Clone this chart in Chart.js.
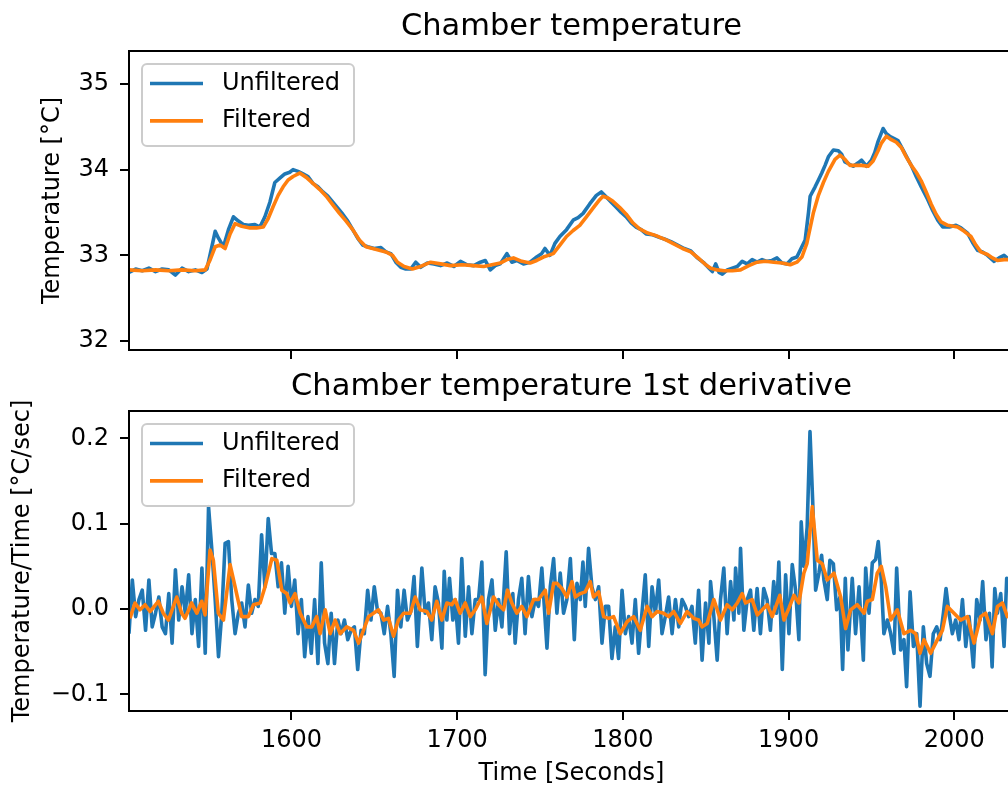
<!DOCTYPE html>
<html>
<head>
<meta charset="utf-8">
<script src="https://cdn.jsdelivr.net/npm/chart.js@4.4.1/dist/chart.umd.min.js"></script>
<style>
  html, body { margin: 0; padding: 0; background: #fff; overflow: hidden; }
  #wrap { position: relative; width: 1008px; height: 788px; overflow: hidden; }
  canvas { position: absolute; left: 0; }
  #tempCanvas { top: 0; }
  #derivCanvas { top: 360px; }
</style>
</head>
<body>
<div id="wrap">
  <canvas id="tempCanvas" width="1030" height="360"></canvas>
  <canvas id="derivCanvas" width="1030" height="428"></canvas>
</div>
<script>
// ---- data ----
const seriesNames = ['Unfiltered', 'Filtered']
const seriesColors = ['#1f77b4', '#ff7f0e']

const timeRange = [1502, 2036]
const timeTicks = [1600, 1700, 1800, 1900, 2000]
const tempRange = [31.895, 35.385]
const tempTicks = [32, 33, 34, 35]
const derivRange = [-0.1196, 0.232]
const derivTicks = [-0.1, 0.0, 0.1, 0.2]

// chamber temperature, unfiltered
const tempRawTime = [
  1502,1506,1510,1514,1518,1522,1526,1530,1534,1538,
  1542,1546,1549,1552,1554,1556,1559,1562,1565,1568,
  1571,1574,1578,1581,1584,1587,1590,1593,1596,1599,
  1601,1604,1607,1610,1613,1616,1619,1622,1625,1628,
  1631,1634,1637,1640,1643,1646,1650,1654,1657,1660,
  1663,1666,1669,1672,1675,1678,1682,1686,1690,1694,
  1698,1702,1706,1710,1714,1717,1720,1723,1726,1730,
  1733,1736,1740,1744,1748,1751,1753,1756,1759,1762,
  1766,1770,1773,1776,1780,1784,1787,1790,1793,1796,
  1799,1802,1805,1808,1811,1814,1818,1822,1825,1829,
  1833,1837,1841,1845,1849,1852,1854,1856,1858,1860,
  1863,1866,1869,1872,1875,1878,1881,1884,1887,1890,
  1893,1896,1899,1902,1905,1908,1910,1912,1913,1916,
  1918,1920,1922,1924,1927,1930,1932,1934,1937,1939,
  1942,1944,1947,1950,1952,1954,1957,1959,1961,1964,
  1966,1969,1972,1974,1977,1980,1984,1987,1990,1993,
  1997,2001,2004,2008,2011,2014,2017,2020,2024,2027,
  2030,2033,2036
]
const tempRaw = [
  32.80,32.84,32.82,32.85,32.81,32.84,32.83,32.77,32.85,32.81,
  32.83,32.80,32.84,33.10,33.28,33.20,33.10,33.30,33.45,33.40,
  33.36,33.35,33.36,33.33,33.45,33.62,33.85,33.90,33.95,33.97,
  34.00,33.98,33.95,33.92,33.84,33.80,33.74,33.69,33.62,33.55,
  33.48,33.40,33.30,33.20,33.12,33.10,33.08,33.09,33.04,33.02,
  32.92,32.86,32.84,32.84,32.92,32.86,32.91,32.90,32.88,32.91,
  32.87,32.93,32.89,32.88,32.92,32.94,32.83,32.88,32.90,33.02,
  32.92,32.94,32.90,32.92,32.98,33.02,33.08,33.00,33.14,33.22,
  33.30,33.41,33.44,33.49,33.60,33.70,33.74,33.68,33.62,33.56,
  33.50,33.45,33.38,33.33,33.30,33.25,33.24,33.21,33.19,33.16,
  33.12,33.08,33.05,32.97,32.91,32.85,32.81,32.90,32.80,32.78,
  32.83,32.85,32.87,32.93,32.90,32.95,32.92,32.95,32.93,32.94,
  32.97,32.91,32.90,32.96,32.98,33.10,33.18,33.50,33.69,33.80,
  33.88,33.96,34.05,34.15,34.23,34.22,34.18,34.09,34.06,34.04,
  34.08,34.11,34.04,34.11,34.20,34.33,34.48,34.42,34.39,34.36,
  34.34,34.23,34.12,34.05,33.92,33.80,33.65,33.52,33.41,33.33,
  33.33,33.35,33.32,33.26,33.15,33.06,33.04,33.00,32.93,32.97,
  33.00,32.95,32.96
]

// chamber temperature, filtered
const tempFiltTime = [
  1502,1510,1518,1526,1534,1542,1548,1551,1554,1557,
  1560,1563,1566,1570,1575,1579,1583,1586,1589,1592,
  1595,1598,1601,1605,1609,1613,1617,1621,1625,1629,
  1633,1637,1641,1645,1649,1653,1657,1661,1664,1668,
  1673,1678,1684,1690,1696,1703,1710,1716,1721,1726,
  1730,1734,1739,1744,1748,1752,1755,1758,1762,1766,
  1770,1774,1778,1782,1786,1788,1791,1794,1798,1802,
  1806,1810,1815,1820,1826,1831,1836,1841,1846,1850,
  1853,1857,1861,1866,1871,1876,1881,1886,1891,1896,
  1901,1905,1908,1911,1913,1915,1918,1921,1924,1928,
  1931,1934,1937,1941,1944,1948,1951,1954,1956,1959,
  1962,1965,1968,1971,1974,1977,1980,1983,1986,1989,
  1992,1996,2002,2006,2010,2013,2016,2020,2023,2026,
  2030,2036
]
const tempFilt = [
  32.83,32.82,32.83,32.82,32.83,32.82,32.83,32.95,33.10,33.12,
  33.08,33.25,33.37,33.34,33.32,33.32,33.33,33.43,33.57,33.70,
  33.80,33.88,33.92,33.96,33.91,33.84,33.77,33.69,33.59,33.49,
  33.40,33.30,33.18,33.10,33.08,33.06,33.04,33.00,32.92,32.87,
  32.84,32.87,32.92,32.90,32.88,32.89,32.88,32.87,32.89,32.91,
  32.95,32.97,32.93,32.91,32.94,32.98,33.00,33.02,33.12,33.22,
  33.29,33.35,33.45,33.55,33.65,33.69,33.67,33.63,33.56,33.48,
  33.38,33.31,33.26,33.23,33.18,33.13,33.08,33.04,32.96,32.89,
  32.85,32.83,32.82,32.82,32.83,32.88,32.92,32.93,32.92,32.91,
  32.89,32.92,32.98,33.14,33.32,33.50,33.70,33.85,33.98,34.12,
  34.17,34.12,34.05,34.05,34.05,34.04,34.10,34.22,34.31,34.39,
  34.35,34.32,34.26,34.15,34.05,33.97,33.87,33.74,33.60,33.48,
  33.39,33.35,33.33,33.28,33.22,33.12,33.04,33.01,32.97,32.94,
  32.95,32.95
]

// 1st derivative, unfiltered
const derivRawTime = [
  1502,1504,1506,1508,1510,1512,1514,1516,1518,1520,
  1522,1524,1526,1528,1530,1532,1534,1536,1538,1540,
  1542,1544,1546,1548,1550,1552,1554,1556,1558,1560,
  1562,1564,1566,1568,1570,1572,1574,1576,1578,1580,
  1582,1584,1586,1588,1590,1592,1594,1596,1598,1600,
  1602,1604,1606,1608,1610,1612,1614,1616,1618,1620,
  1622,1624,1626,1628,1630,1632,1634,1636,1638,1640,
  1642,1644,1646,1648,1650,1652,1654,1656,1658,1660,
  1662,1664,1666,1668,1670,1672,1674,1676,1678.7,1680.7,
  1682.7,1684.7,1686.7,1688.7,1690.8,1692.2,1693.8,1695.4,1697.4,1698.8,
  1700.8,1702.8,1704.9,1706.9,1708.9,1710.9,1712.9,1714.9,1716.9,1718.9,
  1721.0,1723.0,1725.0,1727.0,1729.6,1731.6,1733.6,1735.0,1737.0,1739.0,
  1741.0,1743.0,1745.1,1747.1,1749.1,1751.1,1754.2,1756.2,1758.2,1760.2,
  1762.2,1764.2,1766.2,1768.3,1770.7,1772.3,1774.3,1775.9,1777.3,1779.3,
  1781.3,1783.4,1785.4,1787.4,1789.4,1791.4,1793.4,1795.4,1797.4,1799.5,
  1801.5,1803.5,1805.5,1807.5,1809.5,1811.5,1813.5,1815.6,1817.6,1819.6,
  1821.6,1823.6,1825.6,1827.6,1829.7,1831.7,1833.7,1835.7,1837.7,1839.7,
  1841.7,1843.7,1845.7,1847.8,1849.9,1851.9,1852.9,1854.9,1856.9,1858.9,
  1860.9,1862.9,1865.0,1867.0,1868.0,1870.0,1871.0,1873.0,1875.0,1877.0,
  1879.0,1881.0,1883.0,1885.0,1887.0,1889.0,1891.0,1892.7,1894.1,1896.2,
  1898.2,1900.2,1902.2,1904.2,1906.2,1907.6,1909.2,1911.2,1912.9,1914.5,
  1916.3,1918.3,1919.9,1921.3,1923.3,1924.9,1927.0,1929.0,1931.0,1932.6,
  1934.2,1935.8,1938.4,1940.4,1942.5,1945.1,1946.5,1948.5,1950.5,1952.5,
  1954.1,1955.9,1957.5,1959.6,1961.6,1963.6,1965.2,1967.6,1969.6,1971.2,
  1973.3,1975.3,1977.3,1979.3,1981.3,1983.3,1985.3,1987.3,1989.4,1991.4,
  1993.4,1995.0,1996.8,1998.8,2000.8,2002.8,2004.9,2006.9,2008.9,2011.5,
  2013.5,2015.5,2017.1,2019.1,2021.2,2022.8,2024.4,2026.0,2028.0,2030.0,
  2031.6,2033.6,2035.6,2037.0
]
const derivRaw = [
  -0.029,0.034,-0.009,0.011,0.022,-0.025,0.034,-0.021,-0.005,0.014,
  -0.021,-0.029,0.018,-0.040,0.046,-0.013,0.026,-0.005,0.040,-0.029,
  0.011,-0.044,0.048,-0.052,0.120,0.069,0.011,-0.056,-0.005,0.077,
  0.079,0.011,-0.029,-0.005,0.007,-0.021,0.028,-0.005,0.011,0.003,
  0.087,0.026,0.106,0.065,0.065,0.026,0.054,-0.005,0.050,0.003,
  0.034,-0.029,0.011,-0.056,-0.009,-0.052,0.011,-0.064,0.054,-0.040,
  -0.064,-0.005,-0.064,-0.013,-0.029,-0.013,-0.036,-0.025,-0.021,-0.071,
  -0.025,-0.029,0.022,-0.013,0.026,-0.003,-0.005,-0.029,0.003,-0.029,
  -0.079,0.022,-0.021,0.022,-0.013,-0.003,0.038,-0.044,0.048,-0.005,
  0.007,-0.036,0.026,0.007,-0.046,0.044,-0.013,0.036,-0.013,0.011,
  -0.040,0.059,-0.032,0.026,-0.029,0.011,0.011,0.055,-0.077,0.011,
  0.034,-0.025,0.011,-0.021,0.067,-0.029,0.018,-0.040,0.011,0.036,
  -0.029,0.038,-0.009,0.011,0.003,0.048,-0.046,0.026,0.059,-0.005,
  0.042,-0.005,0.011,0.059,-0.036,0.030,0.011,0.055,0.003,0.071,
  0.026,0.011,0.026,-0.040,0.003,0.003,-0.058,-0.021,-0.058,0.022,
  -0.029,-0.009,-0.040,0.011,-0.052,-0.005,0.040,-0.044,0.026,-0.005,
  0.034,-0.029,-0.009,0.014,-0.029,0.011,-0.021,0.011,0.003,-0.009,
  0.003,-0.040,0.022,-0.060,0.007,-0.040,0.032,-0.009,-0.060,0.011,
  0.048,-0.029,0.032,-0.013,0.048,-0.005,0.071,-0.025,0.011,0.022,
  -0.025,0.024,-0.029,0.024,0.011,-0.025,0.032,-0.005,0.055,-0.071,
  0.040,-0.029,0.052,0.022,-0.036,0.102,0.050,0.096,0.208,0.128,
  0.022,0.042,0.063,0.034,0.011,0.057,0.053,-0.001,0.014,-0.071,
  0.036,-0.048,0.036,-0.029,0.026,-0.060,0.048,-0.005,0.054,0.058,
  0.079,0.034,-0.029,-0.013,-0.029,-0.052,0.048,-0.048,-0.036,-0.091,
  0.020,-0.044,-0.029,-0.114,-0.021,-0.064,-0.079,-0.029,-0.021,-0.036,
  -0.005,0.024,-0.005,-0.029,-0.013,-0.036,0.011,-0.044,-0.009,-0.068,
  0.011,-0.013,0.032,-0.036,-0.005,-0.068,0.024,-0.005,0.018,-0.044,
  0.036,0.026,-0.010,0.008
]

// 1st derivative, filtered
const derivFiltTime = [
  1502.6,1505.6,1508.6,1511.7,1514.7,1519.7,1522.7,1525.8,1530.8,1533.8,
  1535.8,1539.8,1542.9,1545.9,1547.9,1550.9,1552.9,1555.9,1559.0,1563.0,
  1566.0,1570.0,1574.0,1577.1,1581.1,1584.1,1588.2,1591.2,1594.2,1597.2,
  1599.2,1602.2,1605.3,1609.3,1612.3,1615.3,1617.3,1620.4,1623.4,1626.4,
  1629.4,1633.4,1637.5,1640.5,1643.5,1646.5,1649.5,1652.6,1655.6,1658.6,
  1661.6,1664.6,1667.7,1671.7,1674.7,1677.7,1681.7,1684.7,1687.7,1690.8,
  1693.8,1696.8,1698.8,1701.8,1704.9,1707.9,1710.9,1714.9,1717.9,1722.0,
  1725.0,1728.0,1730.4,1733.0,1736.0,1739.0,1742.1,1746.1,1749.1,1753.2,
  1755.2,1758.2,1760.2,1763.2,1766.2,1769.3,1771.3,1774.3,1777.3,1780.3,
  1782.3,1785.4,1788.4,1791.4,1794.4,1798.4,1802.5,1806.5,1810.5,1814.6,
  1817.6,1820.6,1824.6,1827.6,1830.7,1834.7,1838.7,1842.7,1845.7,1847.8,
  1850.9,1854.9,1858.9,1862.9,1866.0,1869.0,1872.0,1874.0,1878.0,1881.1,
  1884.1,1887.1,1890.1,1894.7,1897.2,1900.2,1903.2,1906.2,1909.2,1911.2,
  1914.3,1917.3,1920.3,1923.3,1927.4,1931.4,1934.4,1937.4,1941.4,1945.5,
  1947.5,1950.5,1953.5,1955.9,1958.6,1961.6,1965.6,1969.6,1973.6,1976.7,
  1979.3,1981.7,1985.7,1989.8,1992.8,1995.8,1999.8,2003.8,2007.9,2011.9,
  2015.9,2018.9,2023.0,2026.0,2029.0,2032.0,2037.0
]
const derivFilt = [
  -0.011,0.007,-0.001,0.005,-0.003,0.009,-0.005,-0.013,0.014,-0.005,
  -0.011,0.007,-0.005,0.009,-0.007,0.069,0.057,-0.005,-0.013,0.052,
  0.026,-0.009,-0.009,0.005,0.007,0.026,0.059,0.057,0.022,0.018,
  0.007,0.018,-0.005,-0.021,-0.021,-0.009,-0.029,-0.001,-0.029,-0.013,
  -0.029,-0.021,-0.025,-0.040,-0.025,-0.009,-0.005,-0.001,-0.013,-0.011,
  -0.032,-0.013,-0.005,-0.005,0.014,-0.001,-0.003,-0.013,0.009,-0.013,
  0.007,0.005,0.011,-0.005,0.007,-0.009,-0.001,0.014,-0.017,0.014,
  0.005,-0.001,0.022,0.007,-0.005,0.003,-0.009,0.011,0.011,0.022,
  -0.005,0.030,0.030,0.024,0.014,0.032,0.014,0.018,0.020,0.032,
  0.014,0.020,-0.009,-0.011,-0.009,-0.029,-0.015,-0.009,-0.025,0.003,
  -0.009,-0.003,-0.005,-0.009,-0.003,-0.017,-0.003,-0.011,-0.013,-0.021,
  -0.017,0.011,-0.013,0.005,-0.001,0.007,0.018,0.007,0.011,-0.007,
  -0.001,0.005,-0.009,0.016,-0.013,0.001,0.016,0.007,0.042,0.053,
  0.120,0.057,0.053,0.034,0.042,0.014,-0.023,-0.001,0.005,-0.005,
  0.009,0.011,0.042,0.050,0.026,-0.013,-0.001,-0.029,-0.025,-0.029,
  -0.052,-0.036,-0.052,-0.036,-0.025,0.003,-0.005,-0.013,-0.009,-0.040,
  -0.009,-0.005,-0.029,0.003,0.007,-0.009,-0.005
]

// ---- drawing ----
Chart.defaults.font.family = "'DejaVu Sans', sans-serif"
Chart.defaults.color = '#000'

function pairs(times, values) {
    return times.map((t, i) => ({x: t, y: values[i]}))
}

function lineSet(idx, times, values) {
    return {
        label: seriesNames[idx],
        data: pairs(times, values),
        borderColor: seriesColors[idx],
        backgroundColor: seriesColors[idx],
        borderWidth: 3.6,
        borderJoinStyle: 'round',
        pointRadius: 0,
        tension: 0,
        fill: false,
        order: 1 - idx, // orange over blue
    }
}

/** frame round the plot and a matplotlib-like legend box */
const frameLegend = {
    id: 'frameLegend',
    afterDatasetsDraw(chart) {
        const ctx = chart.ctx
        const a = chart.chartArea
        ctx.save()
        const bx = a.left + 13, by = a.top + 13, bw = 212, bh = 82
        ctx.beginPath()
        ctx.roundRect(bx, by, bw, bh, 5)
        ctx.fillStyle = 'rgba(255,255,255,0.8)'
        ctx.fill()
        ctx.lineWidth = 2
        ctx.strokeStyle = '#cccccc'
        ctx.stroke()
        chart.data.datasets.forEach((ds, i) => {
            const y = by + 19.5 + i * 37.4
            ctx.beginPath()
            ctx.moveTo(bx + 8, y)
            ctx.lineTo(bx + 61, y)
            ctx.strokeStyle = ds.borderColor
            ctx.lineWidth = ds.borderWidth
            ctx.stroke()
            ctx.fillStyle = '#000'
            ctx.font = "24px 'DejaVu Sans'"
            ctx.textBaseline = 'middle'
            ctx.textAlign = 'left'
            ctx.fillText(ds.label, bx + 80, y)
        })
        ctx.lineWidth = 2
        ctx.strokeStyle = '#000'
        ctx.strokeRect(a.left, a.top, a.right - a.left, a.bottom - a.top)
        ctx.restore()
    }
}

function tickGrid() {
    return {
        display: true,
        drawOnChartArea: false,
        drawTicks: true,
        tickLength: 9,
        tickWidth: 2,
        lineWidth: 2,
        tickColor: '#000',
    }
}

function makeChart(canvasId, cfg) {
    const ctx = document.getElementById(canvasId).getContext('2d')
    return new Chart(ctx, {
        type: 'line',
        data: { datasets: cfg.datasets },
        options: {
            responsive: false,
            animation: false,
            devicePixelRatio: 1,
            layout: { padding: { left: 0, right: 16, top: 0, bottom: 0 } },
            plugins: {
                legend: { display: false },
                tooltip: { enabled: false },
                title: {
                    display: true,
                    text: cfg.title,
                    fullSize: false,
                    color: '#000',
                    font: { size: 30.5, weight: 'normal' },
                    padding: { top: 8.4, bottom: 6 },
                },
            },
            scales: {
                x: {
                    type: 'linear',
                    min: timeRange[0],
                    max: timeRange[1],
                    afterBuildTicks: s => { s.ticks = timeTicks.map(v => ({value: v})) },
                    ticks: {
                        display: cfg.showTime,
                        autoSkip: false,
                        maxRotation: 0,
                        padding: 6.6,
                        color: '#000',
                        font: { size: 24 },
                        callback: v => String(v),
                    },
                    grid: tickGrid(),
                    border: { display: false },
                    title: {
                        display: cfg.showTime,
                        text: 'Time [Seconds]',
                        color: '#000',
                        font: { size: 24 },
                        padding: { top: 0, bottom: 0 },
                    },
                    afterFit: s => {
                        s.height = cfg.xHeight
                        s.paddingLeft = 0
                        s.paddingRight = 0
                    },
                },
                y: {
                    type: 'linear',
                    min: cfg.yRange[0],
                    max: cfg.yRange[1],
                    afterBuildTicks: s => { s.ticks = cfg.yTicks.map(v => ({value: v})) },
                    ticks: {
                        padding: 11,
                        color: '#000',
                        font: { size: 24 },
                        callback: cfg.yFormat,
                    },
                    grid: tickGrid(),
                    border: { display: false },
                    title: {
                        display: true,
                        text: cfg.yTitle,
                        color: '#000',
                        font: { size: 24 },
                        padding: { top: cfg.yTitlePad, bottom: 0 },
                    },
                    afterFit: s => {
                        s.width = 129
                        s.paddingTop = 0
                        s.paddingBottom = 0
                    },
                },
            },
        },
        plugins: [frameLegend],
    })
}

makeChart('tempCanvas', {
    title: 'Chamber temperature',
    datasets: [lineSet(0, tempRawTime, tempRaw), lineSet(1, tempFiltTime, tempFilt)],
    showTime: false,
    xHeight: 10,
    yRange: tempRange,
    yTicks: tempTicks,
    yFormat: v => String(v),
    yTitle: 'Temperature [°C]',
    yTitlePad: 38,
})

makeChart('derivCanvas', {
    title: 'Chamber temperature 1st derivative',
    datasets: [lineSet(0, derivRawTime, derivRaw), lineSet(1, derivFiltTime, derivFilt)],
    showTime: true,
    xHeight: 77,
    yRange: derivRange,
    yTicks: derivTicks,
    yFormat: v => v.toFixed(1).replace('-', '\u2212'),
    yTitle: 'Temperature/Time [°C/sec]',
    yTitlePad: 8,
})
</script>
</body>
</html>
